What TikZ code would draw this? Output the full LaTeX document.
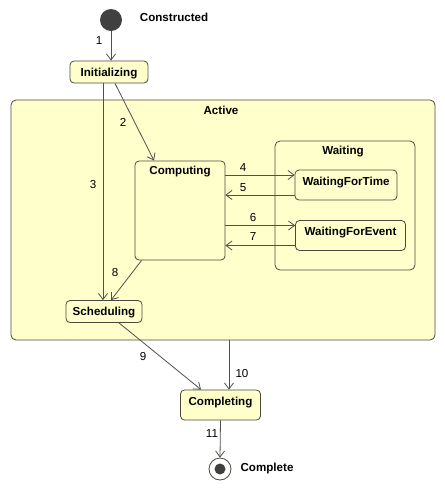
\documentclass[tikz,border=0pt]{standalone}
\usepackage{fontspec}
\setmainfont{Liberation Sans}
\usetikzlibrary{arrows.meta, positioning}

\definecolor{statefill}{HTML}{FFFFCC}
\definecolor{stateline}{HTML}{4A4A3C}
\definecolor{arrowline}{HTML}{505050}
\definecolor{pseudo}{HTML}{404040}

\tikzset{
	state/.style = {draw = stateline, fill = statefill, line width = 0.8pt, rounded corners = 4pt, font = \fontsize{11.6}{14}\selectfont\bfseries, inner xsep = 0pt, inner ysep = 6.5pt, text height = 8.5pt, text depth = 0.5pt},
	region/.style = {draw = stateline, fill = statefill, line width = 0.8pt, rounded corners = 5pt, inner sep = 0pt},
	title/.style = {font = \fontsize{11.6}{14}\selectfont\bfseries, inner sep = 0pt, text height = 8.5pt, text depth = 0pt},
	num/.style = {font = \fontsize{11.6}{14}\selectfont, inner sep = 0pt},
	trans/.style = {draw = arrowline, line width = 0.8pt, -{Straight Barb[length = 6pt, width = 9pt]}}
}

\begin{document}
\begin{tikzpicture}[x = 1pt, y = -1pt]
						\useasboundingbox (0, 0) rectangle (445, 491);

						\node [region, minimum width = 424pt, minimum height = 240pt] (active) at (223, 220) {};
						\node [title, below = 6.5pt of active.north, xshift = -2pt] (activetitle) {Active};

						\node [region, minimum width = 140pt, minimum height = 129pt] (waiting) at (345, 205.5) {};
						\node [title, below = 5.5pt of waiting.north, xshift = -2pt] (waitingtitle) {Waiting};

						\node [region, rounded corners = 4pt, minimum width = 90pt, minimum height = 99pt] (comp) at (180, 210.5) {};
						\node [title, below = 5.5pt of comp.north] (comptitle) {Computing};

						\node [circle, fill = pseudo, minimum size = 22pt, inner sep = 0pt] (start) at (111, 20) {};
						\node [title, right = 17.5pt of start, yshift = 2.5pt] (constructed) {Constructed};

						\node [state, minimum width = 78pt] (init) at (109, 72) {Initializing};
						\node [state, minimum width = 76pt] (sched) at (104, 311.5) {Scheduling};
						\node [state, minimum width = 80pt, text depth = 8.5pt] (compl) at (220.5, 405) {Completing};
						\node [state, minimum width = 102pt, text depth = 8.5pt] (wtime) at (346, 185) {WaitingForTime};
						\node [state, minimum width = 110pt, text depth = 8.5pt] (wevent) at (350.5, 235.5) {WaitingForEvent};

						\node [circle, draw = stateline, fill = white, line width = 0.8pt, minimum size = 22pt, inner sep = 0pt] (final) at (220, 469) {};
						\fill [pseudo] (final.center) circle (5.5pt);
						\node [title, right = 9pt of final, yshift = 1.3pt] (complete) {Complete};

						\coordinate (a4) at ([yshift = 10pt] wtime.west);
						\coordinate (a5) at ([yshift = -10pt] wtime.west);
						\coordinate (a6) at ([yshift = 10pt] wevent.west);
						\coordinate (a7) at ([yshift = -10pt] wevent.west);

						\draw [trans] (start.south) -- (start.south |- init.north);
						\draw [trans] ([xshift = 6pt] init.south) -- ([xshift = -26pt] comp.north);
						\draw [trans] ([xshift = -6pt] init.south) -- ([xshift = -6pt] init.south |- sched.north);
						\draw [trans] (comp.east |- a4) -- (a4);
						\draw [trans] (a5) -- (comp.east |- a5);
						\draw [trans] (comp.east |- a6) -- (a6);
						\draw [trans] (a7) -- (comp.east |- a7);
						\draw [trans] ([xshift = 7pt] comp.south west) -- ([xshift = 7pt] sched.north);
						\draw [trans] ([xshift = 15pt] sched.south) -- ([xshift = -19.5pt] compl.north);
						\draw [trans] ([xshift = 6pt] active.south) -- ([xshift = 6pt] active.south |- compl.north);
						\draw [trans] (compl.south) -- (final.north);

						\node [num] (n1) at (99, 41) {1};
						\node [num] (n2) at (123, 122) {2};
						\node [num] (n3) at (93, 185) {3};
						\node [num] (n4) at (243, 168) {4};
						\node [num] (n5) at (243, 188) {5};
						\node [num] (n6) at (253, 218) {6};
						\node [num] (n7) at (253, 237) {7};
						\node [num] (n8) at (115, 273) {8};
						\node [num] (n9) at (143, 357) {9};
						\node [num] (n10) at (242, 374) {10};
						\node [num] (n11) at (212, 434) {11};
					\end{tikzpicture}
\end{document}
